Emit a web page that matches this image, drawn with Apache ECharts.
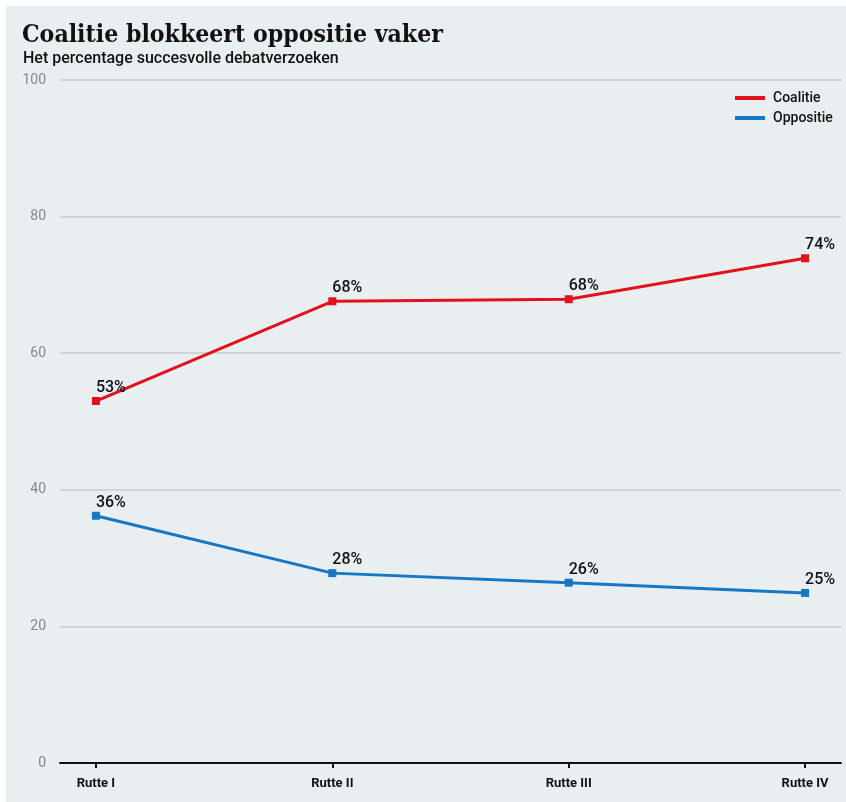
<!DOCTYPE html>
<html>
<head>
<meta charset="utf-8">
<script src="https://cdn.jsdelivr.net/npm/echarts@6/dist/echarts.min.js"></script>
<style>
html,body{margin:0;padding:0;background:#ffffff;width:846px;height:802px;overflow:hidden;}
#c{position:absolute;left:6px;top:6px;width:840px;height:796px;background:#e9eff0;}
</style>
</head>
<body>
<div id="c"></div>
<script>
const categories = ['Rutte I', 'Rutte II', 'Rutte III', 'Rutte IV'];
const coalitie = [53.0, 67.6, 67.9, 73.9];
const oppositie = [36.2, 27.8, 26.4, 24.9];
const yTicks = [0, 20, 40, 60, 80, 100];

const chart = echarts.init(document.getElementById('c'));
const toPts = arr => arr.map((v, i) => [i, v]);
const labelCfg = {
  show: true, position: 'top', align: 'left', distance: 1,
  color: '#111', fontFamily: 'Roboto', fontWeight: 500, fontSize: 16,
  formatter: p => Math.round(p.value[1]) + '%'
};
chart.setOption({
  animation: false,
  title: [
    { text: 'Coalitie blokkeert oppositie vaker', left: 11, top: 12,
      textStyle: { fontFamily: 'DejaVu Serif Condensed', fontWeight: 'bold', fontSize: 24.6, color: '#111' } },
    { text: 'Het percentage succesvolle debatverzoeken', left: 12, top: 40,
      textStyle: { fontFamily: 'Roboto', fontWeight: 500, fontSize: 16, color: '#111' } }
  ],
  legend: {
    orient: 'vertical', left: 724, top: 80, itemWidth: 30, itemHeight: 4, itemGap: 6,
    icon: 'rect',
    textStyle: { fontFamily: 'Roboto', fontWeight: 500, fontSize: 14, color: '#111', padding: [0, 0, 0, 3] },
    data: ['Coalitie', 'Oppositie']
  },
  grid: { left: 54, right: 5, top: 74, bottom: 39, containLabel: false },
  xAxis: {
    type: 'value', min: -0.152, max: 3.152,
    splitLine: { show: false },
    axisLine: { show: true, onZero: false, lineStyle: { color: '#111', width: 2 } },
    axisTick: { show: true, customValues: [0, 1, 2, 3], length: 5, lineStyle: { color: '#111', width: 2 } },
    axisLabel: { customValues: [0, 1, 2, 3], formatter: v => categories[Math.round(v)], margin: 14,
      fontFamily: 'Roboto', fontWeight: 'bold', fontSize: 13, color: '#111' }
  },
  yAxis: {
    type: 'value', min: 0, max: 100, interval: 20,
    axisLine: { show: false }, axisTick: { show: false },
    axisLabel: { margin: 14, fontFamily: 'Roboto', fontSize: 14, color: '#888',
      formatter: v => yTicks.includes(v) ? String(v) : '' },
    splitLine: { lineStyle: { color: '#c9cdcd', width: 1.5 } }
  },
  series: [
    { name: 'Coalitie', type: 'line', data: toPts(coalitie), color: '#e3101e',
      symbol: 'rect', symbolSize: 8, lineStyle: { width: 3 }, label: labelCfg },
    { name: 'Oppositie', type: 'line', data: toPts(oppositie), color: '#1677c4',
      symbol: 'rect', symbolSize: 8, lineStyle: { width: 3 }, label: labelCfg }
  ]
});
</script>
</body>
</html>
